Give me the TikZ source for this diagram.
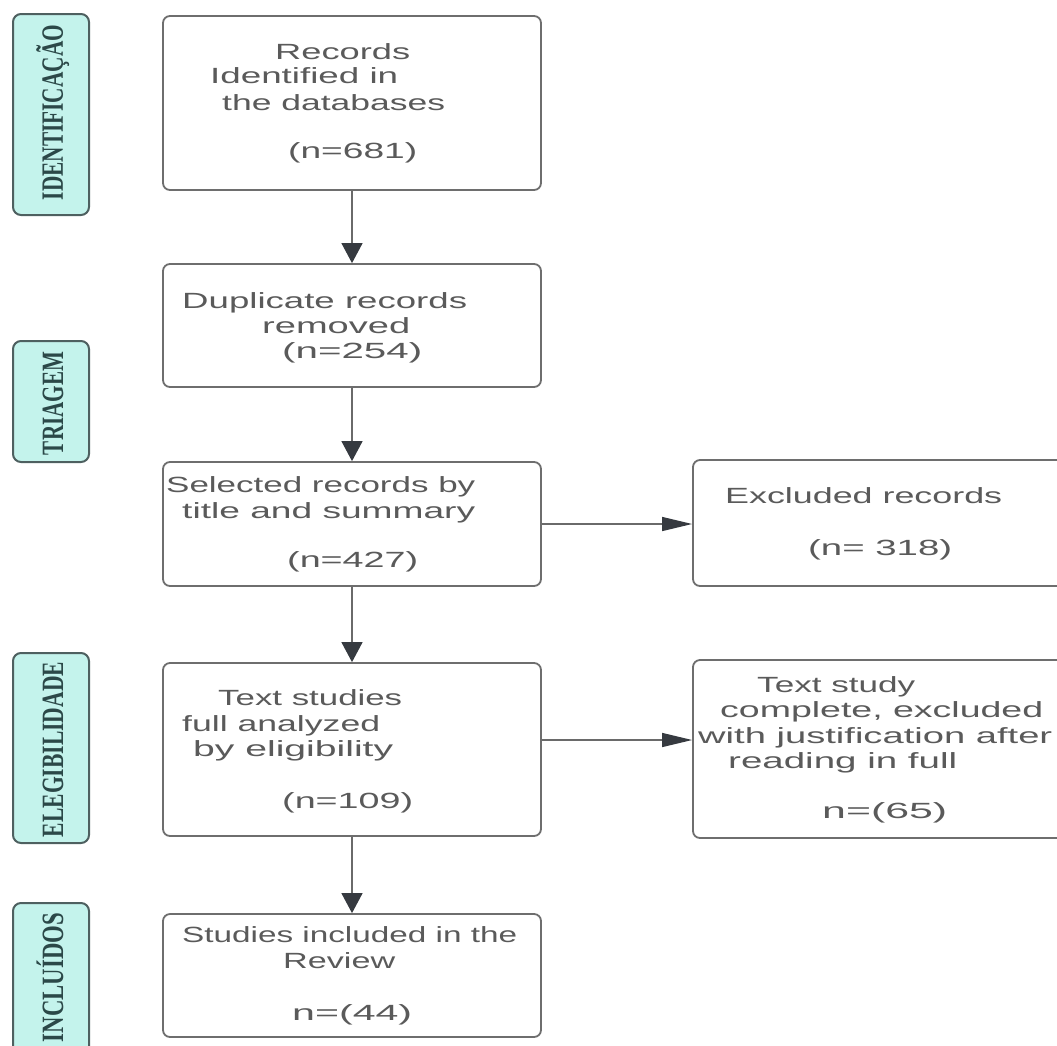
\documentclass[tikz,border=0pt]{standalone}
\usepackage{fontspec}
\usepackage{graphicx}
\setmainfont{Liberation Sans}
\newfontfamily\sidefont{Liberation Serif}
\usetikzlibrary{arrows.meta}
\definecolor{boxc}{HTML}{6E6E6E}
\definecolor{txtc}{HTML}{5A5A5A}
\definecolor{linec}{HTML}{6A6A6A}
\definecolor{headc}{HTML}{363A40}
\definecolor{sidefill}{HTML}{C4F3EC}
\definecolor{sideborder}{HTML}{4E6060}
\definecolor{sidetext}{HTML}{2B4848}
\newcommand\fw[2]{\resizebox{#1pt}{\height}{#2}}
\tikzset{
  mbox/.style={draw=boxc, line width=1.8pt, rounded corners=7pt, inner sep=0pt, fill=white},
  sbox/.style={draw=sideborder, line width=2pt, rounded corners=8pt, fill=sidefill, inner sep=0pt, minimum width=76pt},
  stxt/.style={text=sidetext, font=\sidefont\bfseries\fontsize{31}{31}\selectfont, rotate=90, anchor=base, inner sep=0pt},
  txt/.style={text=txtc, font=\fontsize{22}{25}\selectfont, anchor=base west, inner sep=0pt},
  varrow/.style={draw=linec, line width=1.3pt, -{Triangle[length=20pt,width=21pt,color=headc]}},
  harrow/.style={draw=linec, line width=1.3pt, -{Triangle[length=30pt,width=14pt,color=headc]}}
}
\begin{document}
\begin{tikzpicture}[x=1pt,y=-1pt]
\useasboundingbox (0,0) rectangle (1057,1045);
\clip (0,0) rectangle (1057,1045);
\fill[white] (0,0) rectangle (1057,1045);

% side labels
\node[sbox, minimum height=201pt] (s1) at (51,114.5) {};
\node[stxt] (s1t) at (63,112.5) {\fw{175}{IDENTIFICAÇÃO}};
\node[sbox, minimum height=121pt] (s2) at (51,401.5) {};
\node[stxt] (s2t) at (63,403.5) {\fw{103}{TRIAGEM}};
\node[sbox, minimum height=190pt] (s3) at (51,748) {};
\node[stxt] (s3t) at (63,749.5) {\fw{175}{ELEGIBILIDADE}};
\node[sbox, minimum height=157pt] (s4) at (51,981.5) {};
\node[stxt] (s4t) at (63,977.5) {\fw{129}{INCLUÍDOS}};

% main boxes
\node[mbox, minimum width=378pt, minimum height=174pt] (b1) at (352,103) {};
\node[mbox, minimum width=378pt, minimum height=123pt] (b2) at (352,325.5) {};
\node[mbox, minimum width=378pt, minimum height=124pt] (b3) at (352,524) {};
\node[mbox, minimum width=378pt, minimum height=173pt] (b4) at (352,749.5) {};
\node[mbox, minimum width=378pt, minimum height=123pt] (b5) at (352,975.5) {};
\node[mbox, minimum width=387pt, minimum height=126pt] (r1) at (886.5,523) {};
\node[mbox, minimum width=387pt, minimum height=178pt] (r2) at (886.5,749) {};

% texts box 1
\node[txt] (t1a) at (275,59) {\fw{135}{Records}};
\node[txt] (t1b) at (210,83) {\fw{188}{Identified in}};
\node[txt] (t1c) at (222,110) {\fw{223}{the databases}};
\node[txt] (t1d) at (288,158) {\fw{129}{(n=681)}};
% box 2
\node[txt] (t2a) at (182,308) {\fw{285}{Duplicate records}};
\node[txt] (t2b) at (262,333) {\fw{148}{removed}};
\node[txt] (t2c) at (282,358) {\fw{140}{(n=254)}};
% box 3
\node[txt] (t3a) at (166,492) {\fw{309}{Selected records by}};
\node[txt] (t3b) at (182,518) {\fw{293}{title and summary}};
\node[txt] (t3c) at (287,567) {\fw{131}{(n=427)}};
% box 4
\node[txt] (t4a) at (218,705) {\fw{184}{Text studies}};
\node[txt] (t4b) at (182,731) {\fw{198}{full analyzed}};
\node[txt] (t4c) at (193,756) {\fw{200}{by eligibility}};
\node[txt] (t4d) at (282,808) {\fw{131}{(n=109)}};
% box 5
\node[txt] (t5a) at (182,942) {\fw{335}{Studies included in the}};
\node[txt] (t5b) at (283,968) {\fw{112}{Review}};
\node[txt] (t5c) at (292,1020) {\fw{120}{n=(44)}};
% right box 1
\node[txt] (tr1a) at (725,503) {\fw{277}{Excluded records}};
\node[txt] (tr1b) at (808,555) {\fw{144}{(n= 318)}};
% right box 2
\node[txt] (tr2a) at (757,692) {\fw{158}{Text study}};
\node[txt] (tr2b) at (720,717) {\fw{323}{complete, excluded}};
\node[txt] (tr2c) at (698,743) {\fw{354}{with justification after}};
\node[txt] (tr2d) at (728,768) {\fw{229}{reading in full}};
\node[txt] (tr2e) at (822,818) {\fw{125}{n=(65)}};

% connectors
\draw[varrow] (b1.south) -- (b2.north);
\draw[varrow] (b2.south) -- (b3.north);
\draw[varrow] (b3.south) -- (b4.north);
\draw[varrow] (b4.south) -- (b5.north);
\draw[harrow] (b3.east) -- (b3.east -| r1.west);
\coordinate (a2) at (0,740);
\draw[harrow] (b4.east |- a2) -- (r2.west |- a2);
\end{tikzpicture}
\end{document}
